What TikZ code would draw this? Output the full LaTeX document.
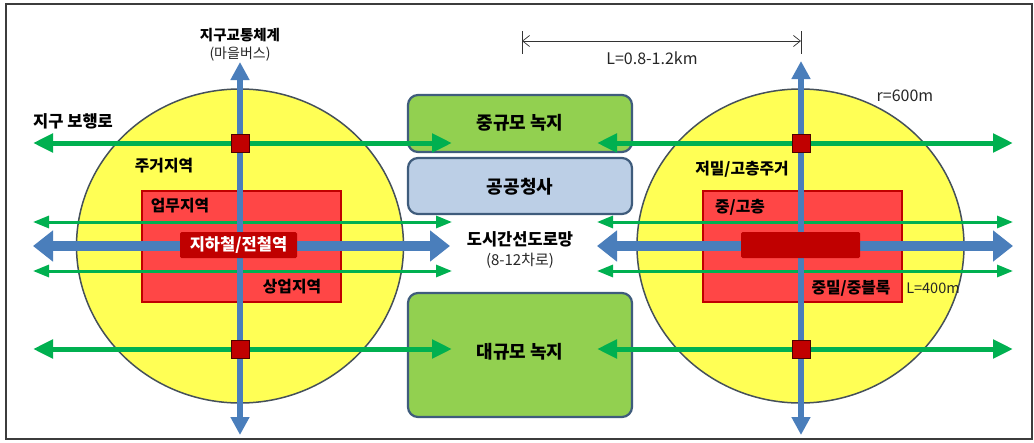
\documentclass[tikz,border=0pt]{standalone}
\usepackage{fontspec}
\setmainfont{Noto Sans CJK KR}
\usetikzlibrary{arrows.meta,shapes.geometric}
\definecolor{bluec}{HTML}{4A7EBB}
\definecolor{greenc}{HTML}{00B050}
\definecolor{yellowc}{HTML}{FFFF55}
\definecolor{redc}{HTML}{FF4646}
\definecolor{darkredc}{HTML}{C00000}
\definecolor{boxgreen}{HTML}{92D050}
\definecolor{boxblue}{HTML}{BCCFE6}
\definecolor{boxline}{HTML}{3F5C7C}
\definecolor{circline}{HTML}{45505A}
\definecolor{framec}{HTML}{3C3C3C}
\begin{document}
\begin{tikzpicture}[x=1pt,y=-1pt,
  zone/.style={ellipse,draw=circline,fill=yellowc,line width=1.5pt,inner sep=0pt},
  redarea/.style={rectangle,draw=darkredc,fill=redc,line width=1.2pt,inner sep=0pt},
  gbox/.style={rectangle,rounded corners=10pt,draw=boxline,line width=2.2pt,inner sep=0pt,minimum width=224pt},
  station/.style={rectangle,fill=darkredc,rounded corners=1.5pt,inner sep=0pt,minimum height=26pt},
  junction/.style={rectangle,fill=darkredc,draw=black!60!darkredc,line width=0.6pt,inner sep=0pt,minimum size=18pt},
  bluev/.style={draw=bluec,line width=6pt,{Triangle[length=18pt,width=18pt]}-{Triangle[length=18pt,width=18pt]}},
  blueh/.style={draw=bluec,line width=10pt,{Triangle[length=20pt,width=30pt]}-{Triangle[length=20pt,width=30pt]}},
  gthick/.style={draw=greenc,line width=5pt,{Triangle[length=20pt,width=18pt]}-{Triangle[length=20pt,width=18pt]}},
  gthin/.style={draw=greenc,line width=3pt,{Triangle[length=16pt,width=12pt]}-{Triangle[length=16pt,width=12pt]}},
  dim/.style={draw=black!80,line width=0.7pt},
  lab/.style={font=\bfseries\fontsize{15.8pt}{18pt}\selectfont,inner sep=0pt},
  biglab/.style={font=\bfseries\fontsize{18pt}{21pt}\selectfont,inner sep=0pt},
  small/.style={font=\fontsize{14.5pt}{17pt}\selectfont,text=black!85,inner sep=0pt},
  latin/.style={font=\fontsize{16pt}{19pt}\selectfont,text=black!85,inner sep=0pt}
]
\useasboundingbox (0,0) rectangle (1034,442);
\fill[white] (0,0) rectangle (1034,442);
\node[draw=framec,line width=1.5pt,minimum width=1026pt,minimum height=435pt,inner sep=0pt] (frame) at (519,221.5) {};

% circles
\node[zone,minimum width=327pt,minimum height=314pt] (cL) at (240,246) {};
\node[zone,minimum width=327pt,minimum height=314pt] (cR) at (800.5,246) {};

% red areas
\node[redarea,minimum width=199pt,minimum height=111pt] (rL) at (241.5,246.5) {};
\node[redarea,minimum width=199pt,minimum height=111pt] (rR) at (802.5,246.5) {};

% centre boxes
\node[gbox,fill=boxgreen,minimum height=57pt] (b1) at (520,123.5) {};
\node[gbox,fill=boxblue,minimum height=56pt] (b2) at (520,186) {};
\node[gbox,fill=boxgreen,minimum height=124pt] (b3) at (520,355) {};

% coordinates for arrows (left)
\coordinate (Lg1a) at (33,143);  \coordinate (Lg1b) at (452,143);
\coordinate (Lg2a) at (33,222);  \coordinate (Lg2b) at (452,222);
\coordinate (Lbha) at (33,246);  \coordinate (Lbhb) at (450,246);
\coordinate (Lg3a) at (33,271);  \coordinate (Lg3b) at (452,271);
\coordinate (Lg4a) at (33,349);  \coordinate (Lg4b) at (452,349);
\coordinate (Lva) at (240,62);   \coordinate (Lvb) at (240,435);
% right
\coordinate (Rg1a) at (597,143);  \coordinate (Rg1b) at (1013,143);
\coordinate (Rg2a) at (597,222);  \coordinate (Rg2b) at (1013,222);
\coordinate (Rbha) at (597,246);  \coordinate (Rbhb) at (1013,246);
\coordinate (Rg3a) at (597,271);  \coordinate (Rg3b) at (1013,271);
\coordinate (Rg4a) at (597,349);  \coordinate (Rg4b) at (1013,349);
\coordinate (Rva) at (801,61);    \coordinate (Rvb) at (801,435);

% green pedestrian paths
\draw[gthick] (Lg1a) -- (Lg1b);
\draw[gthin] (Lg2a) -- (Lg2b);
\draw[gthin] (Lg3a) -- (Lg3b);
\draw[gthick] (Lg4a) -- (Lg4b);
\draw[gthick] (Rg1b) -- (Rg1a);
\draw[gthin] (Rg2b) -- (Rg2a);
\draw[gthin] (Rg3b) -- (Rg3a);
\draw[gthick] (Rg4b) -- (Rg4a);

% blue roads
\draw[blueh] (Lbha) -- (Lbhb);
\draw[blueh] (Rbha) -- (Rbhb);
\draw[bluev] (Lva) -- (Lvb);
\draw[bluev] (Rva) -- (Rvb);

% stations
\node[station,minimum width=117pt,text=white,font=\bfseries\fontsize{16.5pt}{18pt}\selectfont] (sL) at (238.5,245) {지하철/전철역};
\node[station,minimum width=119pt] (sR) at (800.5,245) {};

% junctions
\node[junction] (n1) at (240,143) {};
\node[junction] (n2) at (240,349) {};
\node[junction] (n3) at (801,143) {};
\node[junction] (n4) at (801,349) {};

% dimension
\coordinate (dL) at (522,41); \coordinate (dR) at (801,41);
\coordinate (tLa) at (522,31); \coordinate (tLb) at (522,54);
\coordinate (tRa) at (801,31); \coordinate (tRb) at (801,54);
\draw[dim] (tLa) -- (tLb);
\draw[dim] (tRa) -- (tRb);
\draw[dim,{Straight Barb[length=7pt,width=11pt]}-{Straight Barb[length=7pt,width=11pt]}] (dL) -- (dR);
\node[latin] (dimlab) at (652,58) {L=0.8-1.2km};

% labels
\node[font=\bfseries\fontsize{14.5pt}{16pt}\selectfont,inner sep=0pt] (t1) at (240,35) {지구교통체계};
\node[small,font=\fontsize{14pt}{16pt}\selectfont] (t2) at (240,54) {(마을버스)};
\node[anchor=west,inner sep=0pt,font=\bfseries\fontsize{16.5pt}{18pt}\selectfont] (t3) at (33,121) {지구 보행로};
\node[lab] (t4) at (164,166) {주거지역};
\node[lab] (t5) at (180,206) {업무지역};
\node[lab] (t6) at (292,287) {상업지역};
\node[lab] (t7) at (742,169) {저밀/고층주거};
\node[lab] (t8) at (740,207) {중/고층};
\node[lab] (t9) at (851,288) {중밀/중블록};
\node[font=\fontsize{14.5pt}{17pt}\selectfont,text=black!85,inner sep=0pt] (t10) at (933,288) {L=400m};
\node[latin] (t11) at (905,96) {r=600m};
\node[biglab] (t12) at (520,123) {중규모 녹지};
\node[biglab] (t13) at (520,187) {공공청사};
\node[lab,font=\bfseries\fontsize{16.5pt}{18pt}\selectfont] (t14) at (520,239) {도시간선도로망};
\node[small,font=\fontsize{15pt}{17pt}\selectfont] (t15) at (520,261) {(8-12차로)};
\node[biglab] (t16) at (520,352) {대규모 녹지};
\end{tikzpicture}
\end{document}
